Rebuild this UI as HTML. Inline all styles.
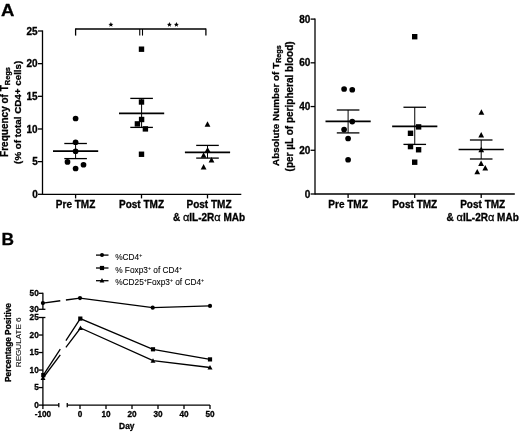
<!DOCTYPE html>
<html><head><meta charset="utf-8"><style>
html,body{margin:0;padding:0;background:#fff;}
body{width:520px;height:432px;overflow:hidden;}
svg{display:block;font-family:"Liberation Sans", sans-serif;filter:blur(0.35px);}
text{stroke:#000;stroke-width:0.3px;}
text.r{stroke-width:0.08px;}
</style></head><body>
<svg width="520" height="432" viewBox="0 0 520 432">
<rect width="520" height="432" fill="#fff"/>
<text transform="translate(1.1,16.2) scale(1.07,1)" font-size="17.3" font-weight="bold">A</text>
<line x1="42.50" y1="30.40" x2="42.50" y2="194.90" stroke="#000" stroke-width="1.3"/>
<line x1="38.00" y1="194.30" x2="42.50" y2="194.30" stroke="#000" stroke-width="1.3"/>
<text x="37.70" y="197.85" font-size="10" font-weight="bold" text-anchor="end" fill="#000" >0</text>
<line x1="38.00" y1="161.64" x2="42.50" y2="161.64" stroke="#000" stroke-width="1.3"/>
<text x="37.70" y="165.19" font-size="10" font-weight="bold" text-anchor="end" fill="#000" >5</text>
<line x1="38.00" y1="128.98" x2="42.50" y2="128.98" stroke="#000" stroke-width="1.3"/>
<text x="37.70" y="132.53" font-size="10" font-weight="bold" text-anchor="end" fill="#000" >10</text>
<line x1="38.00" y1="96.32" x2="42.50" y2="96.32" stroke="#000" stroke-width="1.3"/>
<text x="37.70" y="99.87" font-size="10" font-weight="bold" text-anchor="end" fill="#000" >15</text>
<line x1="38.00" y1="63.66" x2="42.50" y2="63.66" stroke="#000" stroke-width="1.3"/>
<text x="37.70" y="67.21" font-size="10" font-weight="bold" text-anchor="end" fill="#000" >20</text>
<line x1="38.00" y1="31.00" x2="42.50" y2="31.00" stroke="#000" stroke-width="1.3"/>
<text x="37.70" y="34.55" font-size="10" font-weight="bold" text-anchor="end" fill="#000" >25</text>
<line x1="42.50" y1="194.30" x2="241.30" y2="194.30" stroke="#000" stroke-width="1.3"/>
<line x1="75.60" y1="194.30" x2="75.60" y2="198.40" stroke="#000" stroke-width="1.3"/>
<line x1="141.50" y1="194.30" x2="141.50" y2="198.40" stroke="#000" stroke-width="1.3"/>
<line x1="207.50" y1="194.30" x2="207.50" y2="198.40" stroke="#000" stroke-width="1.3"/>
<text x="75.60" y="207.80" font-size="10" font-weight="bold" text-anchor="middle" fill="#000" >Pre TMZ</text>
<text x="141.50" y="207.80" font-size="10" font-weight="bold" text-anchor="middle" fill="#000" >Post TMZ</text>
<text x="209.00" y="207.80" font-size="10" font-weight="bold" text-anchor="middle" fill="#000" >Post TMZ</text>
<text x="209.00" y="220.70" font-size="10" font-weight="bold" text-anchor="middle" fill="#000" >&amp; <tspan font-weight="normal" font-size="11" class="r">α</tspan>IL-2R<tspan font-weight="normal" font-size="11" class="r">α</tspan> MAb</text>
<text transform="translate(8.2,112.0) rotate(-90)" font-size="10" font-weight="bold" text-anchor="middle">Frequency of T<tspan font-size="7.4" dy="1.6">Regs</tspan></text>
<text transform="translate(21.3,112.3) rotate(-90)" font-size="9.8" font-weight="bold" text-anchor="middle">(% of total CD4+ cells)</text>
<line x1="75.60" y1="29.00" x2="205.90" y2="29.00" stroke="#000" stroke-width="1.5"/>
<line x1="75.60" y1="28.40" x2="75.60" y2="35.60" stroke="#000" stroke-width="1.3"/>
<line x1="139.75" y1="29.00" x2="139.75" y2="35.60" stroke="#000" stroke-width="1.1"/>
<line x1="142.50" y1="29.00" x2="142.50" y2="35.60" stroke="#000" stroke-width="1.1"/>
<line x1="205.90" y1="28.40" x2="205.90" y2="35.60" stroke="#000" stroke-width="1.3"/>
<polygon points="110.90,22.10 111.59,23.75 113.37,23.90 112.01,25.06 112.43,26.80 110.90,25.87 109.37,26.80 109.79,25.06 108.43,23.90 110.21,23.75" fill="#000"/>
<polygon points="169.40,22.10 170.09,23.75 171.87,23.90 170.51,25.06 170.93,26.80 169.40,25.87 167.87,26.80 168.29,25.06 166.93,23.90 168.71,23.75" fill="#000"/>
<polygon points="176.40,22.10 177.09,23.75 178.87,23.90 177.51,25.06 177.93,26.80 176.40,25.87 174.87,26.80 175.29,25.06 173.93,23.90 175.71,23.75" fill="#000"/>
<line x1="53.00" y1="151.20" x2="98.20" y2="151.20" stroke="#000" stroke-width="1.7"/>
<line x1="64.30" y1="143.50" x2="86.90" y2="143.50" stroke="#000" stroke-width="1.3"/>
<line x1="64.30" y1="158.60" x2="86.90" y2="158.60" stroke="#000" stroke-width="1.3"/>
<line x1="75.60" y1="143.50" x2="75.60" y2="158.60" stroke="#000" stroke-width="1.0"/>
<circle cx="75.60" cy="118.50" r="2.85" fill="#000"/>
<circle cx="75.60" cy="142.25" r="2.85" fill="#000"/>
<circle cx="75.60" cy="151.25" r="2.85" fill="#000"/>
<circle cx="67.50" cy="161.90" r="2.85" fill="#000"/>
<circle cx="83.50" cy="164.75" r="2.85" fill="#000"/>
<circle cx="75.60" cy="168.50" r="2.85" fill="#000"/>
<line x1="119.00" y1="113.30" x2="164.20" y2="113.30" stroke="#000" stroke-width="1.7"/>
<line x1="130.30" y1="98.40" x2="152.90" y2="98.40" stroke="#000" stroke-width="1.3"/>
<line x1="130.30" y1="127.40" x2="152.90" y2="127.40" stroke="#000" stroke-width="1.3"/>
<line x1="141.60" y1="98.40" x2="141.60" y2="127.40" stroke="#000" stroke-width="1.0"/>
<rect x="138.80" y="46.50" width="5.4" height="5.4" fill="#000"/>
<rect x="138.80" y="99.30" width="5.4" height="5.4" fill="#000"/>
<rect x="138.90" y="116.80" width="5.4" height="5.4" fill="#000"/>
<rect x="134.70" y="121.20" width="5.4" height="5.4" fill="#000"/>
<rect x="142.70" y="126.20" width="5.4" height="5.4" fill="#000"/>
<rect x="138.80" y="151.55" width="5.4" height="5.4" fill="#000"/>
<line x1="184.90" y1="152.40" x2="230.10" y2="152.40" stroke="#000" stroke-width="1.7"/>
<line x1="196.20" y1="145.40" x2="218.80" y2="145.40" stroke="#000" stroke-width="1.3"/>
<line x1="196.20" y1="158.10" x2="218.80" y2="158.10" stroke="#000" stroke-width="1.3"/>
<line x1="207.50" y1="145.40" x2="207.50" y2="158.10" stroke="#000" stroke-width="1.0"/>
<polygon points="207.50,121.30 210.40,126.70 204.60,126.70" fill="#000"/>
<polygon points="207.60,146.90 210.50,152.30 204.70,152.30" fill="#000"/>
<polygon points="203.60,152.30 206.50,157.70 200.70,157.70" fill="#000"/>
<polygon points="211.50,157.00 214.40,162.40 208.60,162.40" fill="#000"/>
<polygon points="203.60,164.00 206.50,169.40 200.70,169.40" fill="#000"/>
<line x1="315.00" y1="18.50" x2="315.00" y2="194.60" stroke="#000" stroke-width="1.3"/>
<line x1="310.60" y1="194.00" x2="315.00" y2="194.00" stroke="#000" stroke-width="1.3"/>
<text x="310.30" y="197.55" font-size="10" font-weight="bold" text-anchor="end" fill="#000" >0</text>
<line x1="310.60" y1="150.27" x2="315.00" y2="150.27" stroke="#000" stroke-width="1.3"/>
<text x="310.30" y="153.82" font-size="10" font-weight="bold" text-anchor="end" fill="#000" >20</text>
<line x1="310.60" y1="106.55" x2="315.00" y2="106.55" stroke="#000" stroke-width="1.3"/>
<text x="310.30" y="110.10" font-size="10" font-weight="bold" text-anchor="end" fill="#000" >40</text>
<line x1="310.60" y1="62.82" x2="315.00" y2="62.82" stroke="#000" stroke-width="1.3"/>
<text x="310.30" y="66.37" font-size="10" font-weight="bold" text-anchor="end" fill="#000" >60</text>
<line x1="310.60" y1="19.10" x2="315.00" y2="19.10" stroke="#000" stroke-width="1.3"/>
<text x="310.30" y="22.65" font-size="10" font-weight="bold" text-anchor="end" fill="#000" >80</text>
<line x1="315.00" y1="194.00" x2="514.80" y2="194.00" stroke="#000" stroke-width="1.3"/>
<line x1="348.10" y1="194.00" x2="348.10" y2="198.00" stroke="#000" stroke-width="1.3"/>
<line x1="414.70" y1="194.00" x2="414.70" y2="198.00" stroke="#000" stroke-width="1.3"/>
<line x1="481.20" y1="194.00" x2="481.20" y2="198.00" stroke="#000" stroke-width="1.3"/>
<text x="348.10" y="207.80" font-size="10" font-weight="bold" text-anchor="middle" fill="#000" >Pre TMZ</text>
<text x="414.70" y="207.80" font-size="10" font-weight="bold" text-anchor="middle" fill="#000" >Post TMZ</text>
<text x="482.70" y="207.80" font-size="10" font-weight="bold" text-anchor="middle" fill="#000" >Post TMZ</text>
<text x="482.70" y="220.70" font-size="10" font-weight="bold" text-anchor="middle" fill="#000" >&amp; <tspan font-weight="normal" font-size="11" class="r">α</tspan>IL-2R<tspan font-weight="normal" font-size="11" class="r">α</tspan> MAb</text>
<text transform="translate(279.4,105.6) rotate(-90)" font-size="9.9" font-weight="bold" text-anchor="middle">Absolute Number of T<tspan font-size="7.2" dy="1.6">Regs</tspan></text>
<text transform="translate(293.4,106.4) rotate(-90)" font-size="10" font-weight="bold" text-anchor="middle">(per µL of peripheral blood)</text>
<line x1="325.50" y1="121.30" x2="370.70" y2="121.30" stroke="#000" stroke-width="1.7"/>
<line x1="336.80" y1="110.00" x2="359.40" y2="110.00" stroke="#000" stroke-width="1.3"/>
<line x1="336.80" y1="132.90" x2="359.40" y2="132.90" stroke="#000" stroke-width="1.3"/>
<line x1="348.10" y1="110.00" x2="348.10" y2="132.90" stroke="#000" stroke-width="1.0"/>
<circle cx="344.10" cy="89.00" r="2.85" fill="#000"/>
<circle cx="352.25" cy="89.75" r="2.85" fill="#000"/>
<circle cx="352.25" cy="121.60" r="2.85" fill="#000"/>
<circle cx="344.10" cy="129.60" r="2.85" fill="#000"/>
<circle cx="348.10" cy="138.50" r="2.85" fill="#000"/>
<circle cx="348.10" cy="159.75" r="2.85" fill="#000"/>
<line x1="392.15" y1="126.30" x2="437.35" y2="126.30" stroke="#000" stroke-width="1.7"/>
<line x1="403.45" y1="107.25" x2="426.05" y2="107.25" stroke="#000" stroke-width="1.3"/>
<line x1="403.45" y1="144.40" x2="426.05" y2="144.40" stroke="#000" stroke-width="1.3"/>
<line x1="414.75" y1="107.25" x2="414.75" y2="144.40" stroke="#000" stroke-width="1.0"/>
<rect x="412.00" y="34.00" width="5.4" height="5.4" fill="#000"/>
<rect x="415.90" y="124.20" width="5.4" height="5.4" fill="#000"/>
<rect x="407.80" y="130.60" width="5.4" height="5.4" fill="#000"/>
<rect x="407.80" y="143.90" width="5.4" height="5.4" fill="#000"/>
<rect x="415.90" y="147.05" width="5.4" height="5.4" fill="#000"/>
<rect x="412.00" y="159.50" width="5.4" height="5.4" fill="#000"/>
<line x1="458.60" y1="149.50" x2="503.80" y2="149.50" stroke="#000" stroke-width="1.7"/>
<line x1="469.90" y1="140.00" x2="492.50" y2="140.00" stroke="#000" stroke-width="1.3"/>
<line x1="469.90" y1="159.00" x2="492.50" y2="159.00" stroke="#000" stroke-width="1.3"/>
<line x1="481.20" y1="140.00" x2="481.20" y2="159.00" stroke="#000" stroke-width="1.0"/>
<polygon points="481.40,109.30 484.30,114.70 478.50,114.70" fill="#000"/>
<polygon points="481.20,132.10 484.10,137.50 478.30,137.50" fill="#000"/>
<polygon points="481.25,146.80 484.15,152.20 478.35,152.20" fill="#000"/>
<polygon points="481.10,160.60 484.00,166.00 478.20,166.00" fill="#000"/>
<polygon points="485.25,165.00 488.15,170.40 482.35,170.40" fill="#000"/>
<polygon points="477.25,168.90 480.15,174.30 474.35,174.30" fill="#000"/>
<text x="1.60" y="245.30" font-size="17.3" font-weight="bold" text-anchor="start" fill="#000" >B</text>
<line x1="96.00" y1="255.10" x2="108.50" y2="255.10" stroke="#000" stroke-width="1.3"/>
<circle cx="102.00" cy="255.10" r="2.0" fill="#000"/>
<line x1="96.00" y1="268.00" x2="108.50" y2="268.00" stroke="#000" stroke-width="1.3"/>
<rect x="99.90" y="265.90" width="4.2" height="4.2" fill="#000"/>
<line x1="96.00" y1="280.70" x2="108.50" y2="280.70" stroke="#000" stroke-width="1.3"/>
<polygon points="102.00,278.10 104.40,282.50 99.60,282.50" fill="#000"/>
<text class="r" x="115.2" y="259.6" font-size="8.3">%CD4<tspan font-size="5.2" dy="-3">+</tspan></text>
<text class="r" x="115.2" y="272.6" font-size="8.3">% Foxp3<tspan font-size="5.2" dy="-3">+</tspan><tspan dy="3"> of CD4</tspan><tspan font-size="5.2" dy="-3">+</tspan></text>
<text class="r" x="115.2" y="285.2" font-size="8.3">%CD25<tspan font-size="5.2" dy="-3">+</tspan><tspan dy="3">Foxp3</tspan><tspan font-size="5.2" dy="-3">+</tspan><tspan dy="3"> of CD4</tspan><tspan font-size="5.2" dy="-3">+</tspan></text>
<line x1="42.90" y1="292.70" x2="42.90" y2="309.30" stroke="#000" stroke-width="1.3"/>
<line x1="38.60" y1="293.30" x2="42.90" y2="293.30" stroke="#000" stroke-width="1.3"/>
<line x1="38.60" y1="309.30" x2="45.40" y2="309.30" stroke="#000" stroke-width="1.3"/>
<text x="38.70" y="296.00" font-size="8.2" font-weight="bold" text-anchor="end" fill="#000" >50</text>
<text x="38.70" y="312.00" font-size="8.2" font-weight="bold" text-anchor="end" fill="#000" >30</text>
<line x1="42.90" y1="317.50" x2="42.90" y2="405.70" stroke="#000" stroke-width="1.3"/>
<line x1="38.60" y1="317.50" x2="45.40" y2="317.50" stroke="#000" stroke-width="1.3"/>
<text x="38.70" y="320.20" font-size="8.2" font-weight="bold" text-anchor="end" fill="#000" >25</text>
<line x1="38.60" y1="405.10" x2="42.90" y2="405.10" stroke="#000" stroke-width="1.3"/>
<text x="38.70" y="407.80" font-size="8.2" font-weight="bold" text-anchor="end" fill="#000" >0</text>
<line x1="38.60" y1="387.58" x2="42.90" y2="387.58" stroke="#000" stroke-width="1.3"/>
<text x="38.70" y="390.28" font-size="8.2" font-weight="bold" text-anchor="end" fill="#000" >5</text>
<line x1="38.60" y1="370.06" x2="42.90" y2="370.06" stroke="#000" stroke-width="1.3"/>
<text x="38.70" y="372.76" font-size="8.2" font-weight="bold" text-anchor="end" fill="#000" >10</text>
<line x1="38.60" y1="352.54" x2="42.90" y2="352.54" stroke="#000" stroke-width="1.3"/>
<text x="38.70" y="355.24" font-size="8.2" font-weight="bold" text-anchor="end" fill="#000" >15</text>
<line x1="38.60" y1="335.02" x2="42.90" y2="335.02" stroke="#000" stroke-width="1.3"/>
<text x="38.70" y="337.72" font-size="8.2" font-weight="bold" text-anchor="end" fill="#000" >20</text>
<line x1="42.90" y1="405.10" x2="58.80" y2="405.10" stroke="#000" stroke-width="1.3"/>
<line x1="58.80" y1="402.90" x2="58.80" y2="407.30" stroke="#000" stroke-width="1.3"/>
<line x1="67.25" y1="402.90" x2="67.25" y2="407.30" stroke="#000" stroke-width="1.3"/>
<line x1="67.25" y1="405.10" x2="210.00" y2="405.10" stroke="#000" stroke-width="1.3"/>
<line x1="42.90" y1="405.10" x2="42.90" y2="409.00" stroke="#000" stroke-width="1.3"/>
<text x="42.90" y="417.20" font-size="8.2" font-weight="bold" text-anchor="middle" fill="#000" >-100</text>
<line x1="80.00" y1="405.10" x2="80.00" y2="409.00" stroke="#000" stroke-width="1.3"/>
<text x="80.00" y="417.20" font-size="8.2" font-weight="bold" text-anchor="middle" fill="#000" >0</text>
<line x1="106.00" y1="405.10" x2="106.00" y2="409.00" stroke="#000" stroke-width="1.3"/>
<text x="106.00" y="417.20" font-size="8.2" font-weight="bold" text-anchor="middle" fill="#000" >10</text>
<line x1="132.00" y1="405.10" x2="132.00" y2="409.00" stroke="#000" stroke-width="1.3"/>
<text x="132.00" y="417.20" font-size="8.2" font-weight="bold" text-anchor="middle" fill="#000" >20</text>
<line x1="158.00" y1="405.10" x2="158.00" y2="409.00" stroke="#000" stroke-width="1.3"/>
<text x="158.00" y="417.20" font-size="8.2" font-weight="bold" text-anchor="middle" fill="#000" >30</text>
<line x1="184.00" y1="405.10" x2="184.00" y2="409.00" stroke="#000" stroke-width="1.3"/>
<text x="184.00" y="417.20" font-size="8.2" font-weight="bold" text-anchor="middle" fill="#000" >40</text>
<line x1="210.00" y1="405.10" x2="210.00" y2="409.00" stroke="#000" stroke-width="1.3"/>
<text x="210.00" y="417.20" font-size="8.2" font-weight="bold" text-anchor="middle" fill="#000" >50</text>
<text x="126.80" y="428.90" font-size="8.4" font-weight="bold" text-anchor="middle" fill="#000" >Day</text>
<text transform="translate(10.6,342.5) rotate(-90)" font-size="8.3" font-weight="bold" text-anchor="middle">Percentage Positive</text>
<text class="r" transform="translate(20.5,342.3) rotate(-90)" font-size="8.1" fill="#111" text-anchor="middle">REGULATE 6</text>
<line x1="42.90" y1="303.10" x2="60.30" y2="300.75" stroke="#000" stroke-width="1.3"/>
<polyline points="65.90,300.00 80.00,298.10 152.70,307.65 210.00,305.90" fill="none" stroke="#000" stroke-width="1.3" stroke-linejoin="miter"/>
<line x1="43.30" y1="375.10" x2="60.30" y2="349.14" stroke="#000" stroke-width="1.3"/>
<polyline points="65.90,340.59 80.30,318.60 153.00,349.30 210.00,359.40" fill="none" stroke="#000" stroke-width="1.3" stroke-linejoin="miter"/>
<line x1="43.00" y1="378.00" x2="60.30" y2="354.93" stroke="#000" stroke-width="1.3"/>
<polyline points="65.90,347.47 80.50,328.00 153.00,360.70 210.00,367.50" fill="none" stroke="#000" stroke-width="1.3" stroke-linejoin="miter"/>
<circle cx="42.90" cy="303.10" r="2.1" fill="#000"/>
<circle cx="80.00" cy="298.10" r="2.1" fill="#000"/>
<circle cx="152.70" cy="307.65" r="2.1" fill="#000"/>
<circle cx="210.00" cy="305.90" r="2.1" fill="#000"/>
<rect x="41.20" y="373.00" width="4.2" height="4.2" fill="#000"/>
<rect x="78.20" y="316.50" width="4.2" height="4.2" fill="#000"/>
<rect x="150.90" y="347.20" width="4.2" height="4.2" fill="#000"/>
<rect x="207.90" y="357.30" width="4.2" height="4.2" fill="#000"/>
<polygon points="43.00,375.50 45.50,380.10 40.50,380.10" fill="#000"/>
<polygon points="80.50,325.50 83.00,330.10 78.00,330.10" fill="#000"/>
<polygon points="153.00,358.20 155.50,362.80 150.50,362.80" fill="#000"/>
<polygon points="210.00,365.00 212.50,369.60 207.50,369.60" fill="#000"/>
</svg>
</body></html>
